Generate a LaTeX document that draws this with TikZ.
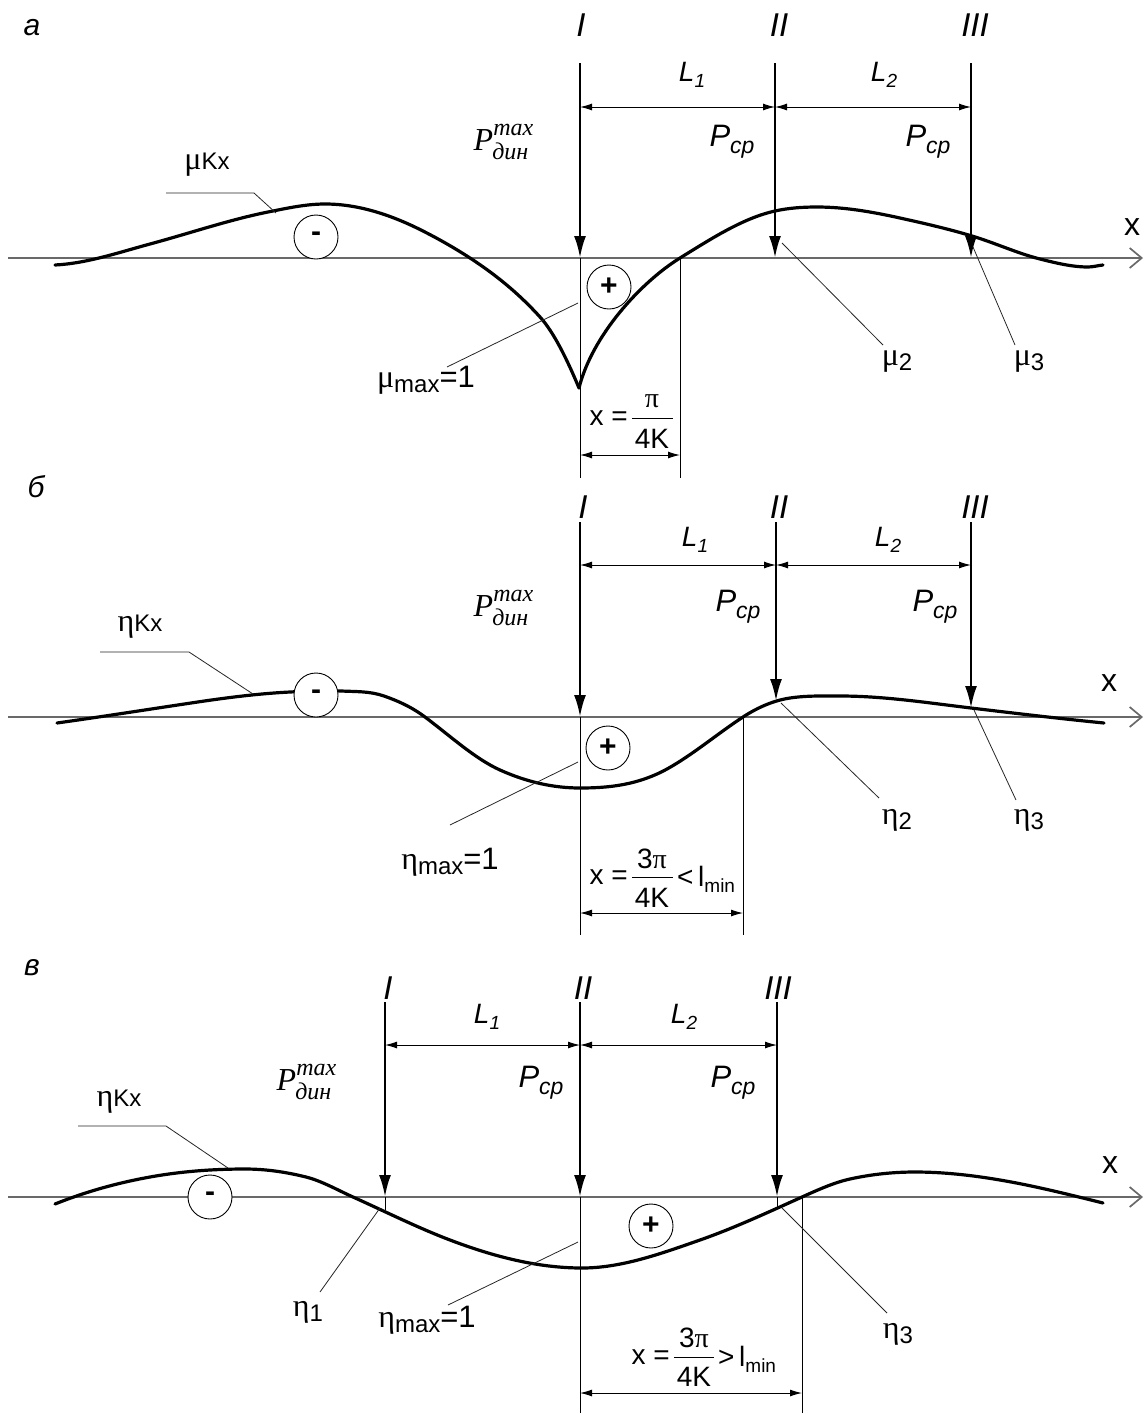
\documentclass[tikz,border=0pt]{standalone}
\usepackage{fontspec}
\setmainfont{Liberation Sans}
\newfontfamily\serif{Liberation Serif}
\usetikzlibrary{arrows.meta}
\newcommand\fsz[1]{\fontsize{#1}{#1}\selectfont}
\newcommand\Pdin{{\serif\itshape\fsz{32}P\rlap{\raisebox{15pt}{\fsz{24}max}}\kern-1pt\raisebox{-9pt}{\fsz{24}дин}}}
\newcommand\Pcp{{\itshape\fsz{31}P\raisebox{-7pt}{\fsz{23}ср}}}
\newcommand\Lsub[1]{{\itshape\fsz{28}L\raisebox{-6pt}{\fsz{19}#1}}}
\newcommand\gr[1]{{\serif\fsz{32}#1}}
\newcommand\lowsub[1]{\raisebox{-5pt}{\fsz{24}#1}}
\definecolor{axisgray}{RGB}{105,105,105}
\begin{document}
\begin{tikzpicture}[x=1pt,y=-1pt,
  curve/.style={line width=3.2pt, line join=round, line cap=round},
  force/.style={line width=2.6pt, -{Latex[length=22pt,width=12pt]}},
  dimline/.style={line width=1pt, {Latex[length=12pt,width=7pt]}-{Latex[length=12pt,width=7pt]}},
  axisline/.style={line width=1.7pt, draw=axisgray, -{Straight Barb[length=12pt,width=20pt,line width=1.7pt]}},
  thinline/.style={line width=1pt},
  leader/.style={line width=0.8pt, draw=black!85},
  sign/.style={circle, draw, line width=0.9pt, fill=white, minimum size=44pt, inner sep=0pt, font=\bfseries\fsz{30}},
  roman/.style={font=\itshape\fsz{33}, inner sep=0pt},
  panel/.style={font=\itshape\fsz{30}, inner sep=0pt},
  lbl/.style={inner sep=0pt},
  xlbl/.style={font=\fsz{32}, inner sep=0pt},
  frac/.style={font=\fsz{28}, inner sep=0pt}
]
\useasboundingbox (0,0) rectangle (1148,1414);

% ================= Panel a =================
\coordinate (aAx0) at (8,258); \coordinate (aAx1) at (1143,258);
\coordinate (aI0) at (580,63); \coordinate (aI1) at (580,258); \coordinate (aI2) at (580,478);
\coordinate (aII0) at (775,63); \coordinate (aII1) at (775,258);
\coordinate (aIII0) at (971,63); \coordinate (aIII1) at (971,258);
\coordinate (aZ1) at (680,258); \coordinate (aZ2) at (680,478);
\coordinate (aD1) at (580,107); \coordinate (aD2) at (775,107); \coordinate (aD3) at (971,107);
\coordinate (aE1) at (580,455); \coordinate (aE2) at (680,455);

\draw[axisline] (aAx0) -- (aAx1);
\draw[thinline] (aI1) -- (aI2);
\draw[thinline] (aZ1) -- (aZ2);
\draw[curve] (55,265) .. controls (86.7,263.4) and (118.3,252.6) .. (150,244)
  .. controls (189.3,233.4) and (228.7,219.9) .. (268,212)
  .. controls (287,208.2) and (306,204) .. (325,204)
  .. controls (357,204) and (389,214) .. (421,230)
  .. controls (437.3,238.2) and (453.7,247.4) .. (470,258)
  .. controls (493.3,273.2) and (516.7,291.3) .. (540,317)
  .. controls (553,331.3) and (566,356.8) .. (579,388);
\draw[curve] (579,388) .. controls (592,336) and (640,282.8) .. (680,258)
  .. controls (711.7,238.4) and (743.3,218) .. (775,211)
  .. controls (789,207.9) and (803,207) .. (817,207)
  .. controls (844.7,207) and (872.3,211.9) .. (900,218)
  .. controls (924,223.3) and (948,228.8) .. (972,236)
  .. controls (994.7,242.8) and (1017.3,253.3) .. (1040,259)
  .. controls (1056,263) and (1072,267) .. (1088,267)
  .. controls (1093,267) and (1098,265.5) .. (1103,265);
\draw[force] (aI0) -- (aI1);
\draw[force] (aII0) -- (aII1);
\draw[force] (aIII0) -- (aIII1);
\draw[dimline] (aD1) -- (aD2);
\draw[dimline] (aD2) -- (aD3);
\draw[dimline] (aE1) -- (aE2);
\node[sign] (aMinus) at (316,237) {-};
\node[sign] (aPlus) at (609,287) {+};

\node[panel] (aLet) at (32,28) {а};
\node[roman] (aRI) at (581,25) {I};
\node[roman] (aRII) at (779,25) {II};
\node[roman] (aRIII) at (975,25) {III};
\node[lbl] (aL1) at (692,75) {\Lsub{1}};
\node[lbl] (aL2) at (884,75) {\Lsub{2}};
\node[lbl] (aP1) at (732,142) {\Pcp};
\node[lbl] (aP2) at (928,142) {\Pcp};
\node[lbl] (aPd) at (501,142) {\Pdin};
\node[lbl] (aMuK) at (207,165) {\gr{μ}\fsz{24}Kx};
\node[lbl] (aMuMax) at (426,380) {\gr{μ}\lowsub{max}\fsz{31}=1};
\node[lbl] (aMu2) at (897,362) {\gr{μ}\lowsub{2}};
\node[lbl] (aMu3) at (1029,362) {\gr{μ}\lowsub{3}};
\node[xlbl] (aX) at (1132,227) {x};
\node[frac, anchor=east] (aFx) at (628,418) {x =};
\node[frac] (aFn) at (652,401) {\serif π};
\node[frac] (aFd) at (652,439) {4K};
\coordinate (aB1) at (632,418); \coordinate (aB2) at (673,418);
\draw[thinline] (aB1) -- (aB2);

\coordinate (aK1) at (166,193); \coordinate (aK2) at (254,193); \coordinate (aK3) at (276,213);
\draw[leader] (aK1) -- (aK2) -- (aK3);
\coordinate (aM1) at (447,367); \coordinate (aM2) at (578,303);
\draw[leader] (aM1) -- (aM2);
\coordinate (aU1) at (782,243); \coordinate (aU2) at (883,345);
\draw[leader] (aU1) -- (aU2);
\coordinate (aV1) at (973,247); \coordinate (aV2) at (1015,345);
\draw[leader] (aV1) -- (aV2);

% ================= Panel b =================
\coordinate (bAx0) at (8,717); \coordinate (bAx1) at (1143,717);
\coordinate (bI0) at (580,522); \coordinate (bI1) at (580,717); \coordinate (bI2) at (580,935);
\coordinate (bII0) at (776,522); \coordinate (bII1) at (776,701);
\coordinate (bIII0) at (971,522); \coordinate (bIII1) at (971,708);
\coordinate (bZ1) at (743,717); \coordinate (bZ2) at (743,935);
\coordinate (bD1) at (580,565); \coordinate (bD2) at (776,565); \coordinate (bD3) at (971,565);
\coordinate (bE1) at (580,913); \coordinate (bE2) at (743,913);

\draw[axisline] (bAx0) -- (bAx1);
\draw[thinline] (bI1) -- (bI2);
\draw[thinline] (bZ1) -- (bZ2);
\draw[curve] (57,723) .. controls (101.7,716.7) and (146.3,709.7) .. (191,703)
  .. controls (224,698) and (257,693.65) .. (290,692)
  .. controls (307,691.15) and (324,690.15) .. (341,691)
  .. controls (355.3,691.7) and (369.7,691) .. (384,696)
  .. controls (397.7,700.8) and (411.3,706.75) .. (425,717)
  .. controls (450,735.75) and (475,758.75) .. (500,770)
  .. controls (526.7,782) and (553.3,788) .. (580,788)
  .. controls (609,788) and (638,784.95) .. (667,769)
  .. controls (692.3,755.1) and (717.7,733.5) .. (743,717)
  .. controls (758.7,706.8) and (774.3,700.35) .. (790,698)
  .. controls (806.7,695.5) and (823.3,696) .. (840,696)
  .. controls (883.7,696) and (927.3,702.76) .. (971,708)
  .. controls (1015.3,713.3) and (1059.7,718.6) .. (1104,723);
\draw[force] (bI0) -- (bI1);
\draw[force] (bII0) -- (bII1);
\draw[force] (bIII0) -- (bIII1);
\draw[dimline] (bD1) -- (bD2);
\draw[dimline] (bD2) -- (bD3);
\draw[dimline] (bE1) -- (bE2);
\node[sign] (bMinus) at (316,695) {-};
\node[sign] (bPlus) at (608,748) {+};

\node[panel] (bLet) at (36,487) {б};
\node[roman] (bRI) at (583,507) {I};
\node[roman] (bRII) at (779,507) {II};
\node[roman] (bRIII) at (975,507) {III};
\node[lbl] (bL1) at (695,540) {\Lsub{1}};
\node[lbl] (bL2) at (888,540) {\Lsub{2}};
\node[lbl] (bP1) at (738,607) {\Pcp};
\node[lbl] (bP2) at (935,607) {\Pcp};
\node[lbl] (bPd) at (501,608) {\Pdin};
\node[lbl] (bEtK) at (140,627) {\gr{η}\fsz{24}Kx};
\node[lbl] (bEtMax) at (450,862) {\gr{η}\lowsub{max}\fsz{31}=1};
\node[lbl] (bEt2) at (897,820) {\gr{η}\lowsub{2}};
\node[lbl] (bEt3) at (1029,820) {\gr{η}\lowsub{3}};
\node[xlbl] (bX) at (1109,683) {x};
\node[frac, anchor=east] (bFx) at (628,877) {x =};
\node[frac] (bFn) at (652,859) {3\serif π};
\node[frac] (bFd) at (652,898) {4K};
\coordinate (bB1) at (632,877); \coordinate (bB2) at (673,877);
\draw[thinline] (bB1) -- (bB2);
\node[frac, anchor=west] (bFl) at (677,879) {<\,l\raisebox{-6pt}{\fsz{19}min}};

\coordinate (bK1) at (100,652); \coordinate (bK2) at (189,652); \coordinate (bK3) at (253,694);
\draw[leader] (bK1) -- (bK2) -- (bK3);
\coordinate (bM1) at (450,825); \coordinate (bM2) at (578,762);
\draw[leader] (bM1) -- (bM2);
\coordinate (bU1) at (781,703); \coordinate (bU2) at (879,798);
\draw[leader] (bU1) -- (bU2);
\coordinate (bV1) at (974,710); \coordinate (bV2) at (1016,800);
\draw[leader] (bV1) -- (bV2);

% ================= Panel c =================
\coordinate (cAx0) at (8,1197); \coordinate (cAx1) at (1143,1197);
\coordinate (cI0) at (385,1002); \coordinate (cI1) at (385,1197); \coordinate (cI2) at (385,1210);
\coordinate (cII0) at (580,1002); \coordinate (cII1) at (580,1197); \coordinate (cII2) at (580,1413);
\coordinate (cIII0) at (777,1002); \coordinate (cIII1) at (777,1197); \coordinate (cIII2) at (777,1207);
\coordinate (cZ1) at (802,1197); \coordinate (cZ2) at (802,1413);
\coordinate (cD1) at (385,1045); \coordinate (cD2) at (580,1045); \coordinate (cD3) at (777,1045);
\coordinate (cE1) at (580,1393); \coordinate (cE2) at (802,1393);

\draw[axisline] (cAx0) -- (cAx1);
\draw[thinline] (cI1) -- (cI2);
\draw[thinline] (cII1) -- (cII2);
\draw[thinline] (cIII1) -- (cIII2);
\draw[thinline] (cZ1) -- (cZ2);
\draw[curve] (55,1204) .. controls (86.67,1191.33) and (118.33,1182.7) .. (150,1177)
  .. controls (181.67,1171.3) and (213.33,1169) .. (245,1169)
  .. controls (265.33,1169) and (285.67,1171.92) .. (306,1177)
  .. controls (321.67,1180.92) and (337.33,1189.95) .. (353,1197)
  .. controls (385.33,1211.55) and (417.67,1227.71) .. (450,1240)
  .. controls (494,1256.72) and (538,1268) .. (582,1268)
  .. controls (621.33,1268) and (660.67,1253.77) .. (700,1240)
  .. controls (734,1228.1) and (768,1212.3) .. (802,1197)
  .. controls (818,1189.8) and (834,1182.52) .. (850,1179)
  .. controls (871.67,1174.23) and (893.33,1172) .. (915,1172)
  .. controls (943.33,1172) and (971.67,1175.18) .. (1000,1180)
  .. controls (1034.33,1185.84) and (1068.67,1194.42) .. (1103,1203);
\draw[force] (cI0) -- (cI1);
\draw[force] (cII0) -- (cII1);
\draw[force] (cIII0) -- (cIII1);
\draw[dimline] (cD1) -- (cD2);
\draw[dimline] (cD2) -- (cD3);
\draw[dimline] (cE1) -- (cE2);
\node[sign] (cMinus) at (210,1197) {-};
\node[sign] (cPlus) at (651,1226) {+};

\node[panel] (cLet) at (32,968) {в};
\node[roman] (cRI) at (388,988) {I};
\node[roman] (cRII) at (583,988) {II};
\node[roman] (cRIII) at (778,988) {III};
\node[lbl] (cL1) at (487,1017) {\Lsub{1}};
\node[lbl] (cL2) at (684,1017) {\Lsub{2}};
\node[lbl] (cP1) at (541,1083) {\Pcp};
\node[lbl] (cP2) at (733,1083) {\Pcp};
\node[lbl] (cPd) at (304,1082) {\Pdin};
\node[lbl] (cEtK) at (119,1102) {\gr{η}\fsz{24}Kx};
\node[lbl] (cEt1) at (308,1312) {\gr{η}\lowsub{1}};
\node[lbl] (cEtMax) at (427,1320) {\gr{η}\lowsub{max}\fsz{31}=1};
\node[lbl] (cEt3) at (898,1334) {\gr{η}\lowsub{3}};
\node[xlbl] (cX) at (1110,1165) {x};
\node[frac, anchor=east] (cFx) at (670,1357) {x =};
\node[frac] (cFn) at (694,1338) {3\serif π};
\node[frac] (cFd) at (694,1377) {4K};
\coordinate (cB1) at (674,1357); \coordinate (cB2) at (714,1357);
\draw[thinline] (cB1) -- (cB2);
\node[frac, anchor=west] (cFl) at (718,1359) {>\,l\raisebox{-6pt}{\fsz{19}min}};

\coordinate (cK1) at (78,1126); \coordinate (cK2) at (166,1126); \coordinate (cK3) at (228,1168);
\draw[leader] (cK1) -- (cK2) -- (cK3);
\coordinate (cN1) at (380,1208); \coordinate (cN2) at (320,1292);
\draw[leader] (cN1) -- (cN2);
\coordinate (cM1) at (578,1242); \coordinate (cM2) at (448,1305);
\draw[leader] (cM1) -- (cM2);
\coordinate (cV1) at (782,1208); \coordinate (cV2) at (887,1313);
\draw[leader] (cV1) -- (cV2);
\end{tikzpicture}
\end{document}
